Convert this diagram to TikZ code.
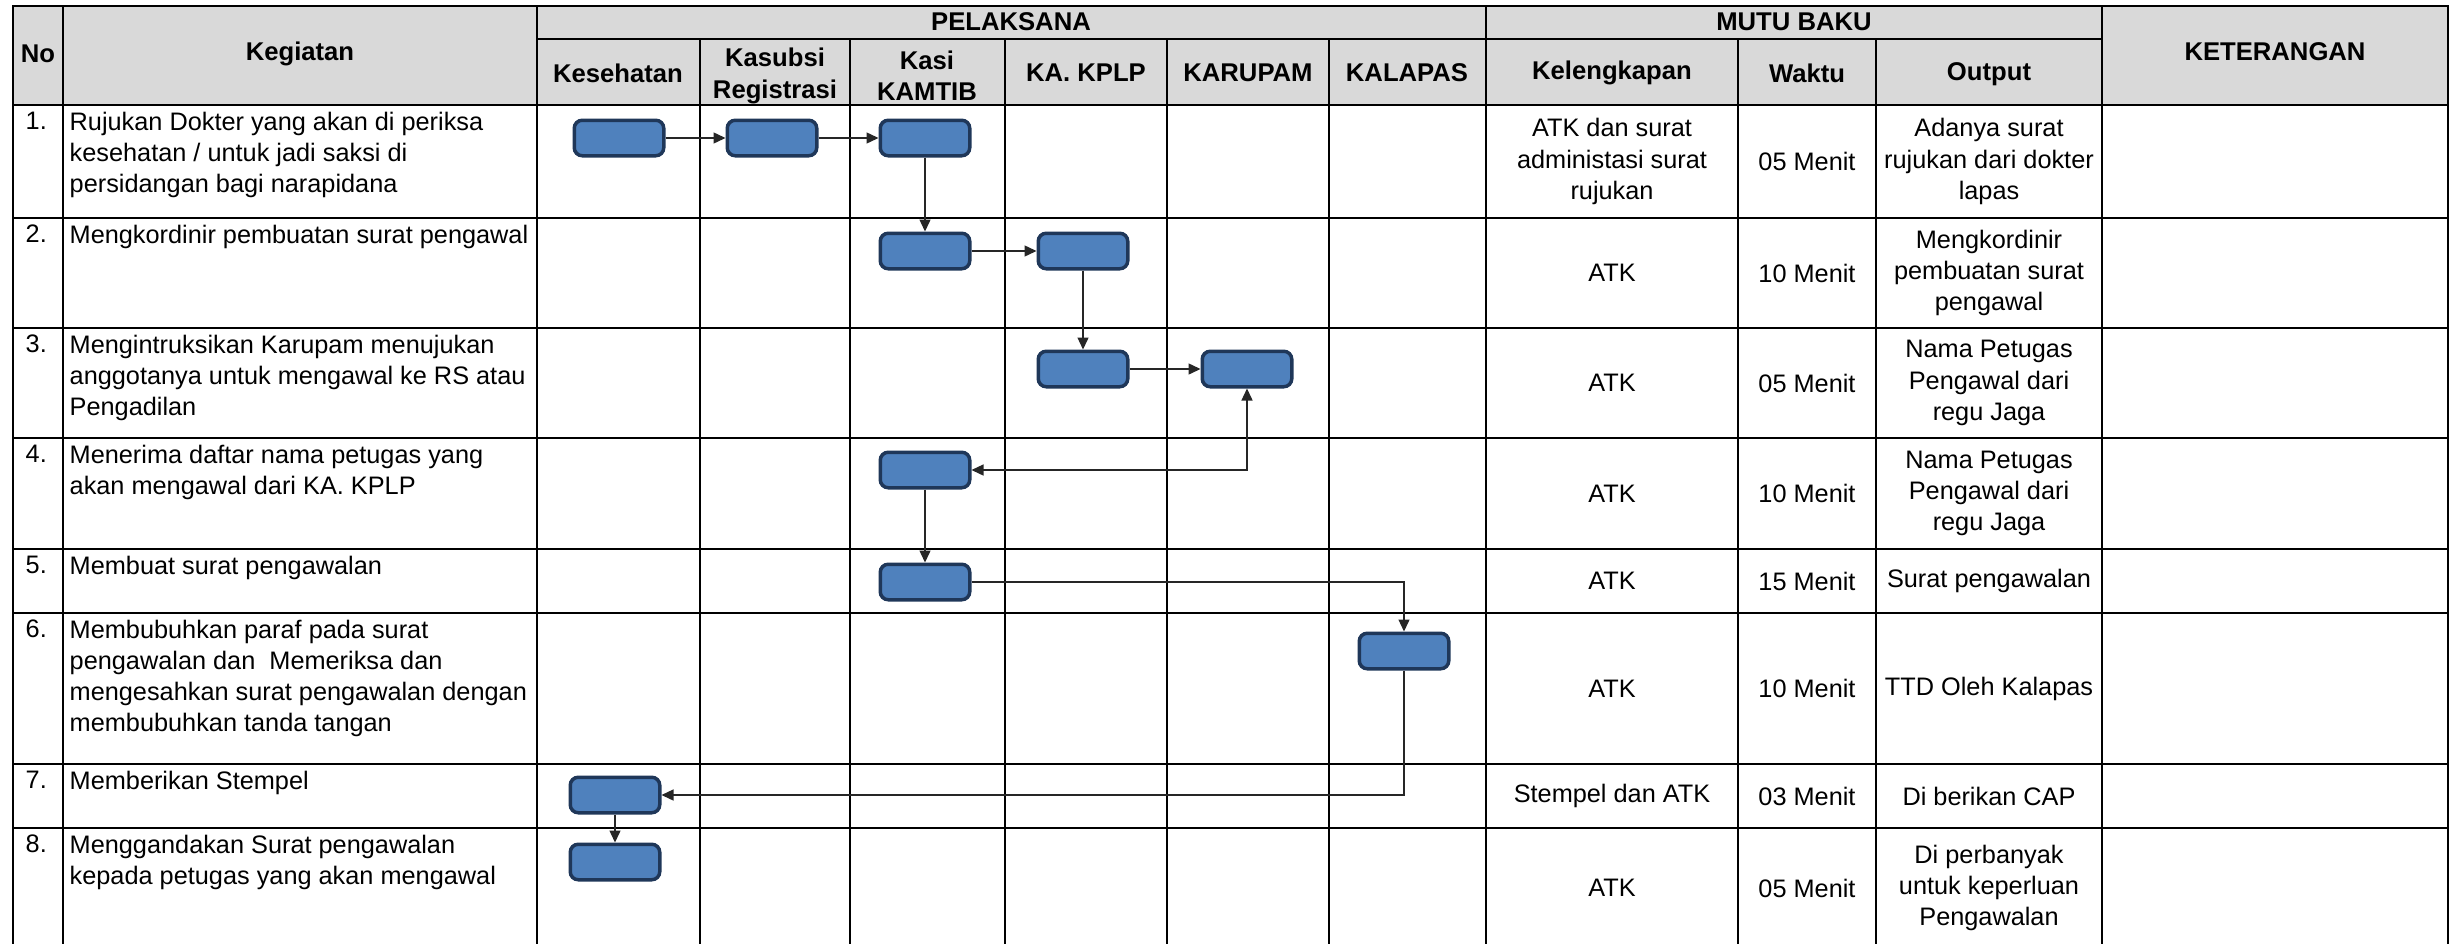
\documentclass[tikz,border=0pt]{standalone}
\usepackage{fontspec}
\setmainfont{Liberation Sans}
\usepackage{xcolor}
\usepackage{tikz}
\usetikzlibrary{calc}
\usetikzlibrary{arrows, arrows.meta}

\definecolor{headgray}{RGB}{217,217,217}
\definecolor{stepfill}{RGB}{79,129,189}
\definecolor{stepline}{RGB}{31,55,89}

\begin{document}
\begin{tikzpicture}[x=0.1mm, y=-0.1mm]

\tikzset{%
stepbox/.style={draw=stepline, fill=stepfill, line width=0.35mm, rounded corners=0.8mm, minimum width=8.95mm, minimum height=3.55mm, inner sep=0},
flowline/.style={line width=0.14mm, black!85, >={Triangle[length=1.2mm, width=1.1mm]}},
gridline/.style={line width=0.22mm, black, line cap=rect},
headtext/.style={font=\fontsize{7.3}{8.9}\selectfont\bfseries, align=center, inner sep=0},
celltext/.style={font=\fontsize{7.2}{8.9}\selectfont, align=center, inner sep=0},
jobtext/.style={font=\fontsize{7.2}{8.9}\selectfont, align=left, anchor=north west, inner sep=0}%
}

\useasboundingbox (0, 0) rectangle (2460, 943) ;
\clip (0, 0) rectangle (2460, 943) ;

% arguments: name, top, bottom, number, kegiatan, kelengkapan, waktu, output
\newcommand{\tablerow}[8]{%
\node [jobtext] (#1no) at (25, #2 + 6) {#4} ;
\node [jobtext] (#1job) at (69, #2 + 6) {#5} ;
\node [celltext] (#1kel) at (1612, {(#2 + #3)/2}) {#6} ;
\node [celltext] (#1wkt) at (1807, {(#2 + #3)/2}) {#7} ;
\node [celltext] (#1out) at (1989, {(#2 + #3)/2}) {#8} ;
}

% arguments: name, x, y
\newcommand{\setstep}[3]{%
\node [stepbox] (#1) at (#2, #3) {} ;
}

% header background

\fill [headgray] (13, 6) rectangle (2448, 105) ;

% rules of the table

\foreach \y in {6, 105, 218, 328, 438, 549, 613, 764, 828, 948}
	\draw [gridline] (13, \y) -- (2448, \y) ;
\draw [gridline] (537, 39) -- (2102, 39) ;
\foreach \x in {13, 63, 537, 1486, 2102, 2448}
	\draw [gridline] (\x, 6) -- (\x, 948) ;
\foreach \x in {700, 850, 1005, 1167, 1329, 1738, 1876}
	\draw [gridline] (\x, 39) -- (\x, 948) ;

% header texts

\node [headtext] (hno) at (38, 54) {No} ;
\node [headtext] (hkeg) at (300, 54) {Kegiatan} ;
\node [headtext] (hpel) at (1011, 22) {PELAKSANA} ;
\node [headtext] (hmutu) at (1794, 22) {MUTU BAKU} ;
\node [headtext] (hket) at (2275, 52) {KETERANGAN} ;

\node [headtext] (hkes) at (618, 73) {Kesehatan} ;
\node [headtext] (hreg) at (775, 76) {Kasubsi\\Registrasi} ;
\node [headtext] (hkam) at (927, 76) {Kasi\\KAMTIB} ;
\node [headtext] (hkplp) at (1086, 73) {KA. KPLP} ;
\node [headtext] (hrup) at (1248, 73) {KARUPAM} ;
\node [headtext] (hpas) at (1407, 73) {KALAPAS} ;
\node [headtext] (hkel) at (1612, 73) {Kelengkapan} ;
\node [headtext] (hwkt) at (1807, 73) {Waktu} ;
\node [headtext] (hout) at (1989, 74) {Output} ;

% rows

\tablerow{r1}{105}{218}{1.}{Rujukan Dokter yang akan di periksa\\kesehatan / untuk jadi saksi di\\persidangan bagi narapidana}{ATK dan surat\\administasi surat\\rujukan}{05 Menit}{Adanya surat\\rujukan dari dokter\\lapas}
\tablerow{r2}{218}{328}{2.}{Mengkordinir pembuatan surat pengawal}{ATK}{10 Menit}{Mengkordinir\\pembuatan surat\\pengawal}
\tablerow{r3}{328}{438}{3.}{Mengintruksikan Karupam menujukan\\anggotanya untuk mengawal ke RS atau\\Pengadilan}{ATK}{05 Menit}{Nama Petugas\\Pengawal dari\\regu Jaga}
\tablerow{r4}{438}{549}{4.}{Menerima daftar nama petugas yang\\akan mengawal dari KA. KPLP}{ATK}{10 Menit}{Nama Petugas\\Pengawal dari\\regu Jaga}
\tablerow{r5}{549}{613}{5.}{Membuat surat pengawalan}{ATK}{15 Menit}{Surat pengawalan}
\tablerow{r6}{613}{764}{6.}{Membubuhkan paraf pada surat\\pengawalan dan\ \ Memeriksa dan\\mengesahkan surat pengawalan dengan\\membubuhkan tanda tangan}{ATK}{10 Menit}{TTD Oleh Kalapas}
\tablerow{r7}{764}{828}{7.}{Memberikan Stempel}{Stempel dan ATK}{03 Menit}{Di berikan CAP}
\tablerow{r8}{828}{948}{8.}{Menggandakan Surat pengawalan\\kepada petugas yang akan mengawal}{ATK}{05 Menit}{Di perbanyak\\untuk keperluan\\Pengawalan}

% flow boxes

\setstep{kes1}{619}{138}
\setstep{reg1}{772}{138}
\setstep{kam1}{925}{138}
\setstep{kam2}{925}{251}
\setstep{kplp2}{1083}{251}
\setstep{kplp3}{1083}{369}
\setstep{rup3}{1247}{369}
\setstep{kam4}{925}{470}
\setstep{kam5}{925}{582}
\setstep{pas6}{1404}{651}
\setstep{kes7}{615}{795}
\setstep{kes8}{615}{862}

% flow lines

\draw [flowline, ->] (kes1.east) -- (reg1.west) ;
\draw [flowline, ->] (reg1.east) -- (kam1.west) ;
\draw [flowline, ->] (kam1.south) -- (kam2.north) ;
\draw [flowline, ->] (kam2.east) -- (kplp2.west) ;
\draw [flowline, ->] (kplp2.south) -- (kplp3.north) ;
\draw [flowline, ->] (kplp3.east) -- (rup3.west) ;
\draw [flowline, <->] (kam4.east) -| (rup3.south) ;
\draw [flowline, ->] (kam4.south) -- (kam5.north) ;
\draw [flowline, ->] (kam5.east) -| (pas6.north) ;
\draw [flowline, ->] (pas6.south) |- (kes7.east) ;
\draw [flowline, ->] (kes7.south) -- (kes8.north) ;

\end{tikzpicture}
\end{document}
